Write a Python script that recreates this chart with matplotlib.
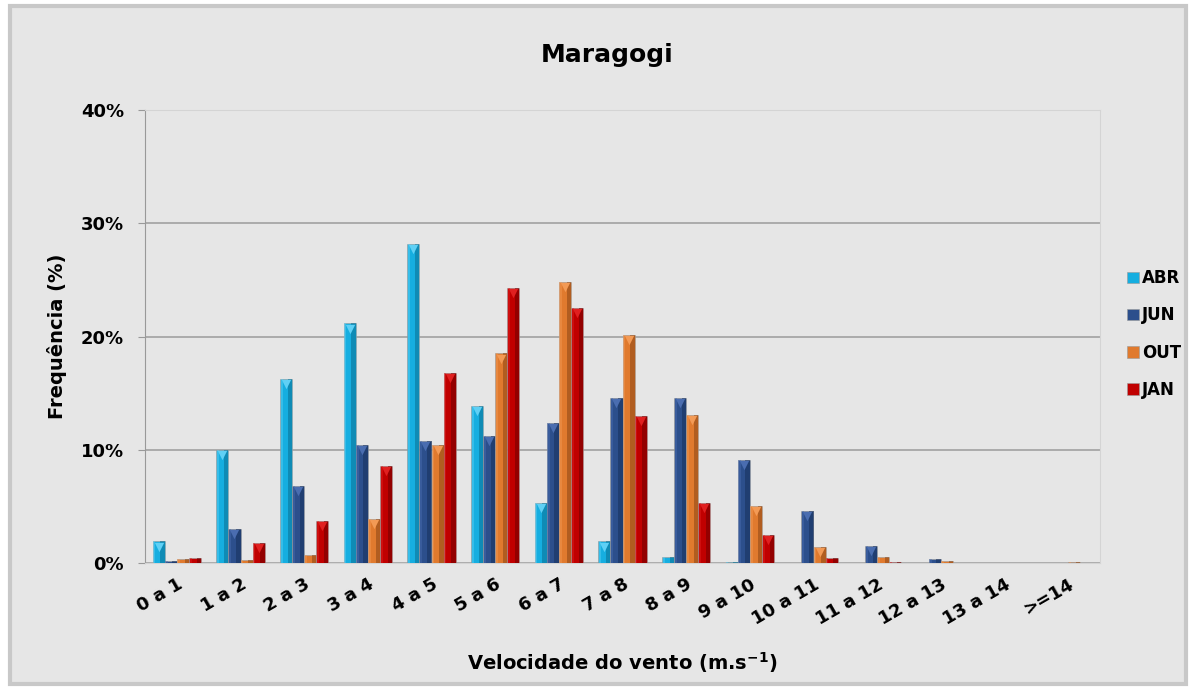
import matplotlib
matplotlib.use("Agg")
import matplotlib.pyplot as plt
import numpy as np
from matplotlib.patches import Rectangle

categories = ["0 a 1", "1 a 2", "2 a 3", "3 a 4", "4 a 5", "5 a 6", "6 a 7", "7 a 8",
              "8 a 9", "9 a 10", "10 a 11", "11 a 12", "12 a 13", "13 a 14", ">=14"]
abr = [1.9, 10.0, 16.25, 21.15, 28.15, 13.9, 5.3, 1.9, 0.57, 0.1, 0.03, 0.02, 0.02, 0.03, 0.0]
jun = [0.2, 3.0, 6.8, 10.45, 10.8, 11.2, 12.35, 14.6, 14.55, 9.1, 4.6, 1.5, 0.37, 0.03, 0.0]
out = [0.33, 0.3, 0.75, 3.85, 10.4, 18.5, 24.8, 20.1, 13.1, 5.0, 1.45, 0.5, 0.2, 0.02, 0.05]
jan = [0.47, 1.75, 3.7, 8.6, 16.8, 24.3, 22.55, 13.0, 5.3, 2.5, 0.43, 0.05, 0.02, 0.0, 0.0]
series_names = ["ABR", "JUN", "OUT", "JAN"]
series_vals = [abr, jun, out, jan]
colors = ["#16aee0", "#2c4f8c", "#e07a2e", "#c00000"]
dark = ["#0a6f93", "#17305c", "#8c4615", "#6e0000"]
light = ["#5fd0f5", "#4a6db0", "#f39a55", "#e02020"]
yticks = [0, 10, 20, 30, 40]

W, H = 1194, 690
fig = plt.figure(figsize=(W / 100, H / 100), dpi=100)
fig.patch.set_facecolor("white")

# outer chart frame
frame = Rectangle((10 / W, 6 / H), 1176 / W, 678 / H, transform=fig.transFigure,
                  facecolor="#e6e6e6", edgecolor="#c8c8c8", linewidth=3, zorder=-5)
fig.patches.append(frame)

ax = fig.add_axes([145 / W, 1 - 563 / H, (1100 - 145) / W, (563 - 110) / H])
ax.set_facecolor("#e6e6e6")

x = np.arange(len(categories))
bw = 0.19
offsets = np.array([-1.5, -0.5, 0.5, 1.5]) * bw
handles = []
for i, (name, vals) in enumerate(zip(series_names, series_vals)):
    xs = x + offsets[i]
    vals_a = np.array(vals)
    h = ax.bar(xs, vals_a, width=bw, color=colors[i], edgecolor="#9a9a9a", linewidth=0.4,
               zorder=3, label=name)
    ax.bar(xs + bw * 0.32, vals_a, width=bw * 0.36, color=dark[i], alpha=0.55,
           linewidth=0, zorder=4)
    ax.bar(xs - bw * 0.36, vals_a, width=bw * 0.18, color=light[i], alpha=0.45,
           linewidth=0, zorder=4)
    mask = vals_a > 0.8
    ax.scatter(xs[mask], vals_a[mask] - 0.45, marker="v", s=45, color=light[i],
               linewidths=0, zorder=5)
    handles.append(h)

ax.set_xlim(-0.5, len(categories) - 0.5)
ax.set_ylim(0, 40)
ax.set_yticks(yticks)
ax.set_yticklabels([f"{t}%" for t in yticks], fontsize=13, fontweight="heavy")
ax.yaxis.grid(True, color="#a6a6a6", linewidth=1.3, zorder=0)
ax.set_axisbelow(True)
ax.tick_params(axis="y", length=5, color="#999999", pad=10)
ax.tick_params(axis="x", length=0, pad=9)
ax.set_xticks(x)
ax.set_xticklabels(categories, rotation=30, ha="right", rotation_mode="anchor",
                   fontsize=13, fontweight="heavy")
for s in ["top", "right"]:
    ax.spines[s].set_color("#d4d4d4")
ax.spines["left"].set_color("#999999")
ax.spines["bottom"].set_color("#d4d4d4")

ax.set_ylabel("Frequência (%)", fontsize=14, fontweight="bold", labelpad=10)
ax.set_xlabel("Velocidade do vento (m.s$^{\\mathbf{-1}}$)", fontsize=14, fontweight="bold", labelpad=16)
fig.text(607 / W, 1 - 55 / H, "Maragogi", ha="center", va="center", fontsize=18, fontweight="bold")

leg = fig.legend(handles=handles, labels=series_names, loc="center left",
                 bbox_to_anchor=(1112 / W, 1 - 334 / H), frameon=False,
                 prop={"weight": "bold", "size": 12},
                 handlelength=0.7, handleheight=0.7, handletextpad=0.2, labelspacing=1.15)

fig.savefig("out.png", dpi=100, facecolor=fig.get_facecolor())
